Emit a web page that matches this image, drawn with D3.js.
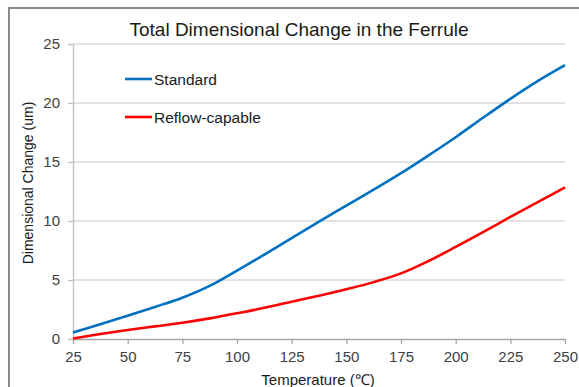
<!DOCTYPE html>
<html><head><meta charset="utf-8">
<script src="https://cdn.jsdelivr.net/npm/d3@7"></script>
<style>body{margin:0;background:#fff}svg{display:block}text{font-family:"Liberation Sans",Arial,sans-serif}</style>
</head><body>
<svg id="c" width="579" height="387"></svg>
<script>
const temps = [25,37.5,50,62.5,75,87.5,100,112.5,125,137.5,150,162.5,175,187.5,200,212.5,225,237.5,250];
const standard = [0.55,1.25,1.98,2.72,3.5,4.5,5.8,7.15,8.55,9.95,11.3,12.65,14.05,15.55,17.1,18.75,20.35,21.85,23.2];
const reflow = [0.05,0.42,0.76,1.07,1.38,1.75,2.18,2.64,3.16,3.67,4.22,4.82,5.56,6.6,7.8,9.05,10.35,11.6,12.85];
const xTicks = [25,50,75,100,125,150,175,200,225,250];
const yTicks = [0,5,10,15,20,25];
const seriesNames = ["Standard","Reflow-capable"];
const seriesColors = ["#0070C0","#FF0000"];

const svg = d3.select("#c");
const x = d3.scaleLinear().domain([25,250]).range([73,565]);
const y = d3.scaleLinear().domain([0,25]).range([339,44]);

// outer frame
svg.append("rect").attr("x",9).attr("y",8).attr("width",600).attr("height",400)
  .attr("fill","none").attr("stroke","#8a8a8a").attr("stroke-width",2);

// gridlines
svg.append("g").selectAll("line").data(yTicks.filter(d=>d>0)).join("line")
  .attr("x1",x(25)).attr("x2",x(250)).attr("y1",d=>y(d)).attr("y2",d=>y(d))
  .attr("stroke","#d9d9d9").attr("stroke-width",1.3);

// y axis
const ya = svg.append("g").attr("transform",`translate(${x(25)},0)`)
  .call(d3.axisLeft(y).tickValues(yTicks).tickSize(5).tickPadding(8).tickSizeOuter(0));
ya.select(".domain").attr("stroke","#bfbfbf").attr("stroke-width",1.3);
ya.selectAll(".tick line").attr("stroke","#bfbfbf").attr("stroke-width",1.3);
ya.selectAll("text").attr("font-size",15).attr("fill","#404040")
  .attr("font-family","Liberation Sans, Arial, sans-serif");

// x axis
const xa = svg.append("g").attr("transform",`translate(0,${y(0)})`)
  .call(d3.axisBottom(x).tickValues(xTicks).tickSize(5).tickPadding(7).tickSizeOuter(0));
xa.select(".domain").attr("stroke","#a6a6a6").attr("stroke-width",1.3);
xa.selectAll(".tick line").attr("stroke","#a6a6a6").attr("stroke-width",1.3);
xa.selectAll("text").attr("font-size",15).attr("fill","#404040")
  .attr("font-family","Liberation Sans, Arial, sans-serif");

// lines
const line = d3.line().x((d,i)=>x(temps[i])).y(d=>y(d)).curve(d3.curveMonotoneX);
[standard,reflow].forEach((s,k)=>{
  svg.append("path").datum(s).attr("d",line).attr("fill","none")
    .attr("stroke",seriesColors[k]).attr("stroke-width",2.6).attr("stroke-linejoin","round");
});

// legend
const legY = [79,117];
seriesNames.forEach((n,k)=>{
  svg.append("line").attr("x1",125).attr("x2",152).attr("y1",legY[k]).attr("y2",legY[k])
    .attr("stroke",seriesColors[k]).attr("stroke-width",2.6);
  svg.append("text").attr("x",154).attr("y",legY[k]+5.5).attr("font-size",15.5)
    .attr("fill","#1a1a1a").text(n);
});

// title
svg.append("text").attr("x",299).attr("y",36).attr("text-anchor","middle")
  .attr("font-size",19).attr("fill","#1a1a1a").text("Total Dimensional Change in the Ferrule");

// axis titles
svg.append("text").attr("transform",`translate(33,183) rotate(-90)`).attr("text-anchor","middle")
  .attr("font-size",14).attr("fill","#1a1a1a").text("Dimensional Change (um)");
svg.append("text").attr("x",318).attr("y",385).attr("text-anchor","middle")
  .attr("font-size",15).attr("fill","#1a1a1a").text("Temperature (℃)");
</script>
</body></html>
